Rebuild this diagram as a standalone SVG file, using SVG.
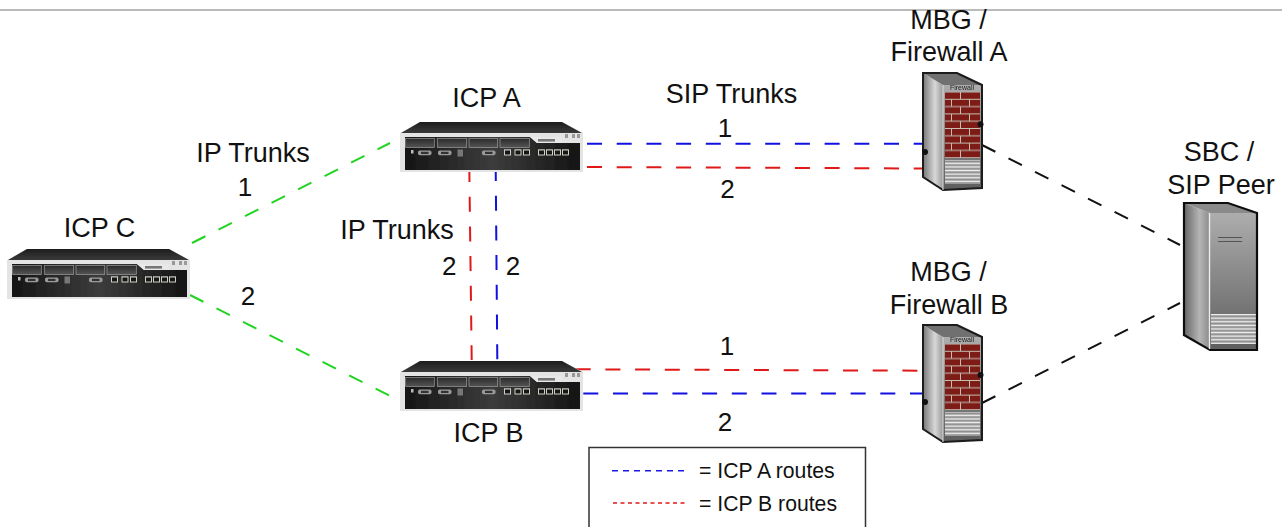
<svg xmlns="http://www.w3.org/2000/svg" width="1282" height="527" viewBox="0 0 1282 527">
<style>
text{font-family:"Liberation Sans",Arial,sans-serif;font-size:27px;fill:#111;text-anchor:middle}
.n{font-size:26px}
.c{fill:none;stroke-width:2;stroke-dasharray:15 14.700}
.g{stroke:#22d422}.b{stroke:#1010e0}.r{stroke:#e01818}.k{stroke:#111}
.leg{font-size:21.200px;text-anchor:start}
</style>
<defs>
<filter id="soft" x="-5%" y="-5%" width="110%" height="110%"><feGaussianBlur stdDeviation="0.45"/></filter>
<linearGradient id="panel" x1="0" x2="1" y1="0" y2="0"><stop offset="0" stop-color="#151515"/><stop offset=".5" stop-color="#3c3c3c"/><stop offset="1" stop-color="#141414"/></linearGradient>
<linearGradient id="top" x1="0" x2="0" y1="0" y2="1"><stop offset="0" stop-color="#1d1d1d"/><stop offset="1" stop-color="#3a3a3a"/></linearGradient>
<linearGradient id="side" x1="0" x2="1" y1="0" y2="0"><stop offset="0" stop-color="#777"/><stop offset=".6" stop-color="#d8d8d8"/><stop offset="1" stop-color="#999"/></linearGradient>
<linearGradient id="side2" x1="0" x2="1" y1="0" y2="0"><stop offset="0" stop-color="#666"/><stop offset=".6" stop-color="#b5b5b5"/><stop offset="1" stop-color="#8a8a8a"/></linearGradient>
<linearGradient id="front" x1="0" x2="0" y1="0" y2="1"><stop offset="0" stop-color="#adadad"/><stop offset="1" stop-color="#5d5d5d"/></linearGradient>
<linearGradient id="slot" x1="0" x2="0" y1="0" y2="1"><stop offset="0" stop-color="#2a2a2a"/><stop offset="1" stop-color="#555"/></linearGradient>
<pattern id="brick" width="36" height="14.600" patternUnits="userSpaceOnUse" x="945" y="92">
<rect width="36" height="14.600" fill="#c4bdb2"/>
<rect x="0" y="0.500" width="15" height="6.300" fill="#7d1c16"/><rect x="16" y="0.500" width="20" height="6.300" fill="#7d1c16"/>
<rect x="-1" y="7.800" width="7" height="6.300" fill="#7d1c16"/><rect x="7" y="7.800" width="17" height="6.300" fill="#7d1c16"/><rect x="25" y="7.800" width="12" height="6.300" fill="#7d1c16"/>
</pattern>
<pattern id="vent" width="10" height="3.600" patternUnits="userSpaceOnUse"><rect width="10" height="3.600" fill="#8d8d8d"/><rect y="0.600" width="10" height="1.500" fill="#f0f0f0"/></pattern>
<g id="rj"><rect width="7" height="6.200" fill="#cfcfc6"/><rect x="1" y="1.200" width="5" height="4" fill="#161616"/></g>
<g id="ser"><rect x="0" y="0" width="13.500" height="4.800" rx="1.800" fill="#9a9a9a"/><rect x="3" y="1.300" width="7.500" height="2.200" fill="#333"/></g>
<g id="icpShape" filter="url(#soft)">
<path d="M400 133L420 122H562L583 133L583 172H400Z" fill="#e4e4e4"/>
<path d="M401 133L420 122H562L582 133Z" fill="url(#top)"/>
<path d="M405 137H530L537 143H580V170H405Z" fill="url(#panel)"/>
<g fill="url(#slot)" stroke="#9a9a9a" stroke-width=".7">
<rect x="405.700" y="138.500" width="28.600" height="9"/><rect x="437.300" y="138.500" width="29.400" height="9"/><rect x="469" y="138.500" width="28.700" height="9"/><rect x="500" y="138.500" width="29.300" height="9"/>
</g>
<path d="M530 137H562V143H537Z" fill="#e8e8e8"/>
<rect x="538" y="139" width="17" height="2.600" fill="#777"/>
<rect x="565" y="134" width="3" height="4" fill="#999"/><rect x="572" y="134" width="3" height="4" fill="#999"/><rect x="577" y="134" width="3" height="4" fill="#999"/>
<use href="#ser" x="418" y="150.500"/><use href="#ser" x="438" y="150.500"/><use href="#ser" x="482" y="150.500"/>
<rect x="457.500" y="149.500" width="5.500" height="7" fill="#777"/><rect x="411" y="150" width="2.500" height="3.500" fill="#bbb"/>
<use href="#rj" x="504" y="149.300"/><use href="#rj" x="514.500" y="149.300"/><use href="#rj" x="523" y="149.300"/><use href="#rj" x="538" y="149.300"/><use href="#rj" x="546" y="149.300"/><use href="#rj" x="554" y="149.300"/><use href="#rj" x="562" y="149.300"/>
</g>
<g id="fwShape" filter="url(#soft)">
<path d="M923 73L943 85V190L923 177Z" fill="url(#side)"/>
<path d="M923 73H957L982 85H943Z" fill="#6f6f6f"/>
<path d="M943 85H982V188L943 190Z" fill="url(#front)"/>
<path d="M923 73H957L982 85V188L943 190L923 177Z" fill="none" stroke="#1a1a1a" stroke-width="2"/>
<path d="M943 85V190" stroke="#dcdcdc" stroke-width="1"/>
<rect x="945" y="92" width="35" height="66" fill="url(#brick)"/>
<rect x="945" y="160" width="35" height="24" fill="url(#vent)"/>
<text x="962" y="90" style="font-size:7px;fill:#222">Firewall</text>
</g>
</defs>

<rect width="1282" height="527" fill="#fff"/>
<path d="M0 10H1282" stroke="#777" stroke-width="1"/>

<g id="connectors">
<path class="c g" d="M192 243L390 143"/>
<path class="c g" d="M190 295L392 397"/>
<path class="c b" d="M587 143.700H925"/>
<path class="c r" d="M587 167L925 168.500"/>
<path class="c r" d="M469.300 167L471.700 360"/>
<path class="c b" d="M495.700 166L497.300 360"/>
<path class="c r" d="M575.700 369.300L923 370.700"/>
<path class="c b" d="M583.300 393.500H922"/>
<path class="c k" d="M982 145L1180 245"/>
<path class="c k" d="M982 403L1180 303"/>
</g>

<g id="icp-a"><use href="#icpShape"/><text x="486.500" y="107">ICP A</text></g>
<g id="icp-b"><use href="#icpShape" y="239"/><text x="488.500" y="442">ICP B</text></g>
<g id="icp-c"><use href="#icpShape" x="-393" y="127"/><text x="99.500" y="237">ICP C</text></g>

<g id="firewall-a"><use href="#fwShape"/><circle cx="925" cy="152" r="3" fill="#111"/><circle cx="980.500" cy="124.300" r="3" fill="#111"/>
<text x="948.500" y="29">MBG /</text><text x="949" y="61">Firewall A</text></g>
<g id="firewall-b"><use href="#fwShape" y="252"/><circle cx="925" cy="402" r="3" fill="#111"/><circle cx="980.500" cy="375" r="3" fill="#111"/>
<text x="948.500" y="281">MBG /</text><text x="949" y="314">Firewall B</text></g>

<g id="sbc" filter="url(#soft)">
<path d="M1184 203L1210 213V350L1184 335Z" fill="url(#side2)"/>
<path d="M1184 203H1228L1257 213H1210Z" fill="#8a8a8a"/>
<path d="M1210 213H1257V350H1210Z" fill="url(#front)"/>
<rect x="1211" y="314" width="45" height="30" fill="url(#vent)"/>
<path d="M1184 203H1228L1257 213V350H1210L1184 335Z" fill="none" stroke="#111" stroke-width="2.200"/>
<path d="M1209.500 213V349" stroke="#eee" stroke-width="1.400"/>
<path d="M1218 237.500H1242M1218 241.500H1242" stroke="#555" stroke-width="1"/>
</g>
<g id="sbc-label"><text x="1219" y="161">SBC /</text><text x="1221" y="194">SIP Peer</text></g>

<g id="labels">
<text x="253" y="161.500">IP Trunks</text><text class="n" x="245" y="196">1</text><text class="n" x="248" y="305">2</text>
<text x="397" y="239">IP Trunks</text><text class="n" x="449.300" y="275">2</text><text class="n" x="513" y="275">2</text>
<text x="731.500" y="103">SIP Trunks</text><text class="n" x="725" y="137">1</text><text class="n" x="727.500" y="198">2</text>
<text class="n" x="727" y="355">1</text><text class="n" x="725" y="430.500">2</text>
</g>

<g id="legend">
<path d="M589 527V447.500H865.500V527" fill="#fff" stroke="#333" stroke-width="1.500"/>
<path d="M612 470.700H688" stroke="#1a1ae0" stroke-width="1.500" stroke-dasharray="6 5" fill="none"/>
<path d="M613 503H685" stroke="#e01818" stroke-width="1.500" stroke-dasharray="4 3.500" fill="none"/>
<text class="leg" x="699" y="478">= ICP A routes</text>
<text class="leg" x="699" y="511">= ICP B routes</text>
</g>
</svg>
